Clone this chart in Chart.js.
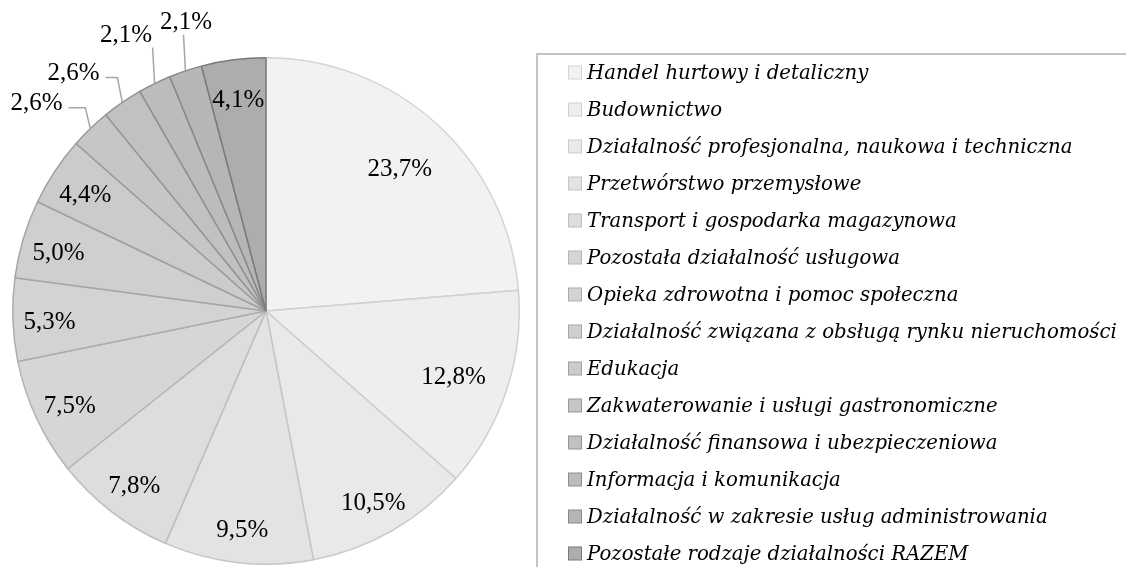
<!DOCTYPE html>
<html>
<head>
<meta charset="utf-8">
<script src="https://cdn.jsdelivr.net/npm/chart.js@4.4.1/dist/chart.umd.min.js"></script>
<style>
  html, body { margin: 0; padding: 0; background: #fff; overflow: hidden; }
</style>
</head>
<body>
<canvas id="pie" width="1126" height="567"></canvas>
<script>
// Categories (legend order = slice order, clockwise from 12 o'clock)
const categories = [
  'Handel hurtowy i detaliczny',
  'Budownictwo',
  'Działalność profesjonalna, naukowa i techniczna',
  'Przetwórstwo przemysłowe',
  'Transport i gospodarka magazynowa',
  'Pozostała działalność usługowa',
  'Opieka zdrowotna i pomoc społeczna',
  'Działalność związana z obsługą rynku nieruchomości',
  'Edukacja',
  'Zakwaterowanie i usługi gastronomiczne',
  'Działalność finansowa i ubezpieczeniowa',
  'Informacja i komunikacja',
  'Działalność w zakresie usług administrowania',
  'Pozostałe rodzaje działalności RAZEM'
];

// Share of each category (%)
const shares = [23.7, 12.8, 10.5, 9.5, 7.8, 7.5, 5.3, 5.0, 4.4, 2.6, 2.6, 2.1, 2.1, 4.1];

// Grey ramp, light to dark
const sliceColors = [
  '#f2f2f2', '#eeeeee', '#e9e9e9', '#e3e3e3', '#dddddd', '#d6d6d6', '#d3d3d3',
  '#cfcfcf', '#cbcbcb', '#c6c6c6', '#c1c1c1', '#bcbcbc', '#b6b6b6', '#adadad'
];
const sliceBorders = [
  '#d4d4d4', '#d0d0d0', '#cccccc', '#c6c6c6', '#bdbdbd', '#b4b4b4', '#acacac',
  '#a6a6a6', '#a0a0a0', '#9a9a9a', '#949494', '#8e8e8e', '#888888', '#7a7a7a'
];

const fmtPct = v => v.toFixed(1).replace('.', ',') + '%';

// percentage labels: inside for big slices, outside with leader lines for small ones
const pieLabels = {
  id: 'pieLabels',
  afterDatasetsDraw(chart) {
    const ctx = chart.ctx;
    const meta = chart.getDatasetMeta(0);
    ctx.save();
    ctx.font = '25px "Liberation Serif"';
    ctx.fillStyle = '#000';
    ctx.textBaseline = 'middle';
    ctx.strokeStyle = '#a6a6a6';
    ctx.lineWidth = 1.5;

    const topLabels = [];
    meta.data.forEach((arc, i) => {
      const p = arc.getProps(['x', 'y', 'startAngle', 'endAngle', 'outerRadius'], true);
      const mid = (p.startAngle + p.endAngle) / 2;
      const cos = Math.cos(mid), sin = Math.sin(mid);
      const txt = fmtPct(shares[i]);
      const w = ctx.measureText(txt).width;

      if (shares[i] >= 3) {
        const d = p.outerRadius * (shares[i] >= 12 ? 0.78 : 0.855);
        ctx.textAlign = 'center';
        ctx.fillText(txt, p.x + cos * d, p.y + sin * d + 4);
        return;
      }

      const ex = p.x + cos * p.outerRadius;
      const ey = p.y + sin * p.outerRadius;
      if (cos < -0.5) {
        const ax = p.x + cos * (p.outerRadius + 40);
        const ay = p.y + sin * (p.outerRadius + 40) + 4;
        ctx.textAlign = 'right';
        ctx.fillText(txt, ax, ay);
        ctx.beginPath();
        ctx.moveTo(ex, ey);
        ctx.lineTo(ex - 5, ay + 4);
        ctx.lineTo(ax + 6, ay + 4);
        ctx.stroke();
      } else {
        topLabels.push({ txt, w, ex, ey, cx: ex - 14, cy: ey - 48 });
      }
    });

    // spread overlapping labels above the pie
    for (let k = 1; k < topLabels.length; k++) {
      const a = topLabels[k - 1], b = topLabels[k];
      const need = (a.w + b.w) / 2 + 8;
      const gap = b.cx - a.cx;
      if (gap < need) {
        const push = (need - gap) / 2;
        a.cx -= push;
        b.cx += push;
      }
    }
    topLabels.forEach(l => {
      ctx.textAlign = 'center';
      ctx.fillText(l.txt, l.cx, l.cy);
      ctx.beginPath();
      ctx.moveTo(l.ex, l.ey);
      ctx.lineTo(l.ex - 2, l.cy + 12);
      ctx.stroke();
    });
    ctx.restore();
  }
};

// boxed legend on the right
const boxLegend = {
  id: 'boxLegend',
  afterDraw(chart) {
    const ctx = chart.ctx;
    const labels = chart.data.labels;
    const ds = chart.data.datasets[0];
    ctx.save();
    ctx.strokeStyle = '#c4c4c4';
    ctx.lineWidth = 2;
    ctx.strokeRect(537, 54, 700, 600);

    ctx.font = 'italic 19.7px "DejaVu Serif"';
    ctx.fillStyle = '#000';
    ctx.textAlign = 'left';
    ctx.textBaseline = 'middle';
    const top = 72.5, step = 37;
    labels.forEach((lab, i) => {
      const y = top + i * step;
      ctx.fillStyle = ds.backgroundColor[i];
      ctx.fillRect(568.5, y - 6.5, 13, 13);
      ctx.strokeStyle = ds.borderColor[i];
      ctx.lineWidth = 1;
      ctx.strokeRect(568.5, y - 6.5, 13, 13);
      ctx.fillStyle = '#000';
      ctx.fillText(lab, 587, y + 1);
    });
    ctx.restore();
  }
};

new Chart(document.getElementById('pie'), {
  type: 'pie',
  data: {
    labels: categories,
    datasets: [{
      data: shares,
      backgroundColor: sliceColors,
      borderColor: sliceBorders,
      borderWidth: 1.5,
      hoverOffset: 0
    }]
  },
  options: {
    responsive: false,
    animation: false,
    layout: { padding: { left: 12, top: 57, right: 606, bottom: 2 } },
    plugins: {
      legend: { display: false },
      tooltip: { enabled: false }
    }
  },
  plugins: [pieLabels, boxLegend]
});
</script>
</body>
</html>
